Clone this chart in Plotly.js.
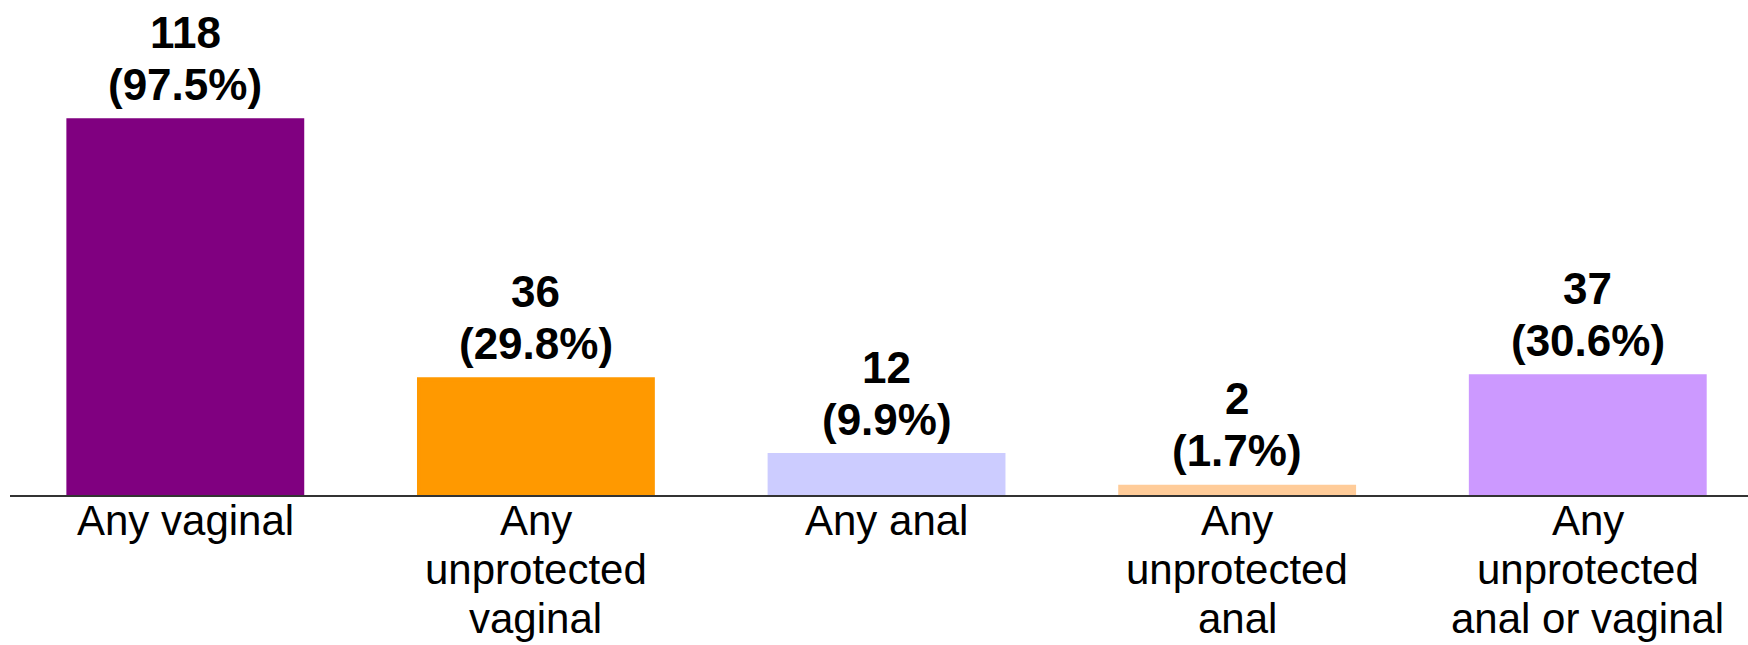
<!DOCTYPE html>
<html>
<head>
<meta charset="utf-8">
<script src="https://cdn.plot.ly/plotly-3.0.1.min.js"></script>
<style>html,body{margin:0;padding:0;background:#fff;}#chart{width:1748px;height:645px;}</style>
</head>
<body>
<div id="chart"></div>
<script>
const categories = ["Any vaginal", "Any<br>unprotected<br>vaginal", "Any anal", "Any<br>unprotected<br>anal", "Any<br>unprotected<br>anal or vaginal"];
const counts = [118, 36, 12, 2, 37];
const percents = [97.5, 29.8, 9.9, 1.7, 30.6];
const colors = ["#800080", "#FF9900", "#CCCCFF", "#FFCC99", "#CC99FF"];

const FONT = "Liberation Sans, Arial, sans-serif";

const trace = {
  type: "bar",
  x: categories,
  y: counts,
  width: 0.667,
  marker: { color: colors, line: { color: colors, width: 4 } },
  hoverinfo: "none"
};

const annotations = [];
// value labels: two lines each, placed relative to the bar top
categories.forEach((c, i) => {
  annotations.push({
    x: c, y: counts[i], xref: "x", yref: "y",
    text: String(counts[i]), showarrow: false,
    xanchor: "center", yanchor: "middle", yshift: 88,
    font: { family: FONT, size: 44, color: "#000", weight: "bold" }
  });
  annotations.push({
    x: c, y: counts[i], xref: "x", yref: "y",
    text: "(" + percents[i].toFixed(1) + "%)", showarrow: false,
    xanchor: "center", yanchor: "middle", yshift: 36,
    font: { family: FONT, size: 44, color: "#000", weight: "bold" }
  });
});
// category labels, line by line below the axis
categories.forEach((c) => {
  c.split("<br>").forEach((line, j) => {
    annotations.push({
      x: c, y: 0, xref: "x", yref: "paper",
      text: line, showarrow: false,
      xanchor: "center", yanchor: "middle", yshift: -25 - 49.3 * j,
      font: { family: FONT, size: 42, color: "#000" }
    });
  });
});

const layout = {
  width: 1748,
  height: 645,
  margin: { l: 9.5, r: 0, t: 0, b: 150, pad: 0 },
  paper_bgcolor: "#fff",
  plot_bgcolor: "#fff",
  showlegend: false,
  font: { family: FONT, color: "#000" },
  xaxis: {
    type: "category",
    range: [-0.5, 4.457],
    showline: true,
    linecolor: "#333",
    linewidth: 1.5,
    ticks: "",
    showticklabels: false,
    showgrid: false,
    zeroline: false,
    fixedrange: true
  },
  yaxis: {
    range: [-0.63, 156.1],
    visible: false,
    showgrid: false,
    zeroline: false,
    fixedrange: true
  },
  annotations: annotations
};

Plotly.newPlot("chart", [trace], layout, { displayModeBar: false, staticPlot: true });
</script>
</body>
</html>
